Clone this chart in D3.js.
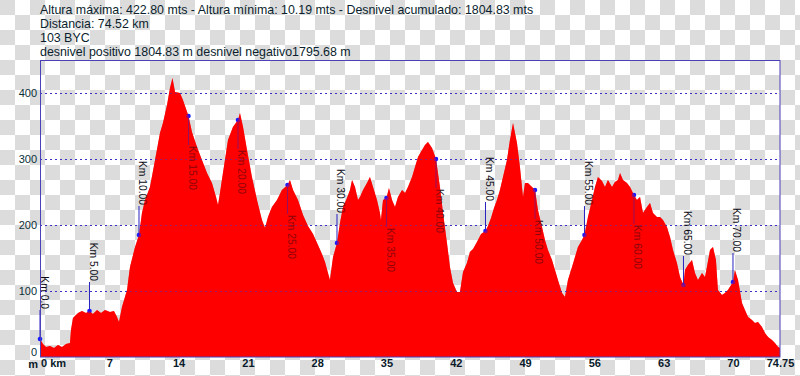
<!DOCTYPE html>
<html>
<head>
<meta charset="utf-8">
<script src="https://cdn.jsdelivr.net/npm/d3@7"></script>
<style>
html,body{margin:0;padding:0;background:#fff;}
svg{display:block;font-family:"Liberation Sans",Arial,sans-serif;}
</style>
</head>
<body>
<svg id="chart" width="800" height="376"></svg>
<script>
// ---- data ----
const titleLines = [
  "Altura máxima: 422.80 mts - Altura mínima: 10.19 mts - Desnivel acumulado: 1804.83 mts",
  "Distancia: 74.52 km",
  "103 BYC",
  "desnivel positivo 1804.83 m desnivel negativo1795.68 m"
];
const distanceKm = [0,0.30,0.61,1.01,1.41,1.82,2.22,2.63,3.03,3.13,3.33,3.84,4.24,4.65,5.00,5.35,5.76,6.16,6.57,7.07,7.47,7.78,7.98,8.28,8.79,9.09,9.60,10.00,10.30,10.61,11.11,11.62,12.12,12.42,12.83,13.13,13.38,13.64,14.14,14.44,15.00,15.35,15.86,16.36,16.87,17.37,17.78,17.98,18.18,18.48,18.99,19.49,20.00,20.20,20.51,20.91,21.41,21.92,22.42,22.73,23.03,23.43,23.94,24.44,25.00,25.25,25.56,26.06,26.57,27.07,27.58,28.08,28.48,28.79,29.09,29.29,29.60,30.00,30.30,30.61,31.01,31.31,31.52,31.82,32.12,32.32,32.63,33.03,33.33,33.64,34.04,34.34,34.44,34.65,35.00,35.25,35.56,35.86,36.16,36.57,36.87,37.17,37.58,37.88,38.18,38.59,38.89,39.19,39.60,40.00,40.40,40.71,41.11,41.41,41.72,42.12,42.42,42.73,43.13,43.43,43.74,44.14,44.55,45.00,45.25,45.56,45.86,46.16,46.46,46.77,47.17,47.47,47.78,48.18,48.48,48.79,48.99,49.29,49.70,50.00,50.30,50.71,51.01,51.31,51.72,52.02,52.32,52.73,53.03,53.33,53.74,54.04,54.34,54.75,55.00,55.35,55.76,56.06,56.36,56.77,57.07,57.37,57.78,58.08,58.38,58.59,58.89,59.29,59.60,60.00,60.30,60.61,60.91,61.31,61.62,61.92,62.32,62.63,62.93,63.33,63.64,63.94,64.34,64.65,65.00,65.15,65.45,65.86,66.16,66.46,66.87,67.17,67.37,67.68,67.98,68.28,68.48,68.89,69.19,69.49,70.00,70.20,70.51,70.91,71.21,71.52,71.92,72.22,72.53,72.93,73.23,73.54,73.94,74.24,74.55,74.75];
const elevationM = [27.3,19.7,15.2,16.7,13.6,18.2,15.2,19.7,21.2,40.9,59.1,66.7,69.7,66.7,69.7,65.2,71.2,66.7,71.2,68.2,69.7,60.6,53.0,75.8,101.5,136.4,166.7,184.8,218.2,237.9,257.6,298.5,339.4,354.5,381.8,407.6,422.8,401.5,400.0,389.4,365.2,340.9,318.2,298.5,278.8,263.6,242.4,230.3,248.5,278.8,328.8,348.5,359.1,369.7,348.5,313.6,272.7,237.9,207.6,195.5,212.1,227.3,237.9,253.0,260.6,268.2,253.0,237.9,215.2,198.5,186.4,169.7,156.1,143.9,127.3,116.7,151.5,172.7,203.0,227.3,240.9,253.0,268.2,257.6,237.9,242.4,253.0,263.6,272.7,257.6,237.9,218.2,207.6,237.9,240.9,256.1,237.9,227.3,242.4,253.0,248.5,257.6,272.7,287.9,303.0,313.6,321.2,325.8,316.7,300.0,257.6,218.2,172.7,136.4,112.1,98.5,98.5,128.8,142.4,159.1,163.6,174.2,186.4,190.9,198.5,210.6,225.8,237.9,253.0,272.7,298.5,328.8,354.5,324.2,287.9,242.4,263.6,263.6,257.6,253.0,222.7,197.0,177.3,162.1,147.0,131.8,116.7,97.0,90.9,116.7,136.4,151.5,166.7,177.3,184.8,212.1,237.9,257.6,272.7,266.7,257.6,268.2,257.6,265.2,268.2,278.8,268.2,263.6,257.6,245.5,237.9,242.4,218.2,227.3,233.3,218.2,212.1,212.1,207.6,197.0,181.8,162.1,142.4,121.2,109.1,131.8,139.4,147.0,127.3,116.7,127.3,121.2,136.4,162.1,166.7,147.0,101.5,93.9,97.0,101.5,113.6,131.8,116.7,81.8,71.2,60.6,56.1,51.5,53.0,45.5,36.4,30.3,25.8,21.2,15.2,13.6];
const markerKm = [0,5,10,15,20,25,30,35,40,45,50,55,60,65,70];
const markerLabels = ["Km 0.0","Km 5.00","Km 10.00","Km 15.00","Km 20.00","Km 25.00","Km 30.00","Km 35.00","Km 40.00","Km 45.00","Km 50.00","Km 55.00","Km 60.00","Km 65.00","Km 70.00"];
const markerSide = ["up","up","up","down","down","down","up","down","down","up","down","up","down","up","up"];
const yTicks = [0,100,200,300,400];
const yGrid = [100,200,300,400];
const xTicks = [0,7,14,21,28,35,42,49,56,63,70,74.75];

// ---- drawing ----
const svg = d3.select("#chart");
const x = d3.scaleLinear().domain([0,74.75]).range([40,780]);
const y = d3.scaleLinear().domain([0,450]).range([357,60]);

// checkerboard background (transparent image pattern)
const defs = svg.append("defs");
const pat = defs.append("pattern").attr("id","checker").attr("patternUnits","userSpaceOnUse")
  .attr("width",30).attr("height",30);
pat.append("rect").attr("width",30).attr("height",30).attr("fill","#ffffff");
pat.append("rect").attr("x",0).attr("y",0).attr("width",15).attr("height",15).attr("fill","#dcdcdc");
pat.append("rect").attr("x",15).attr("y",15).attr("width",15).attr("height",15).attr("fill","#dcdcdc");
svg.append("rect").attr("width",800).attr("height",376).attr("fill","url(#checker)");

// title
svg.append("g").selectAll("text").data(titleLines).join("text")
  .attr("x",40).attr("y",(d,i)=>14+i*14)
  .attr("font-size",12.4).attr("fill","#0b1f2e").text(d=>d);

const pts = distanceKm.map((d,i)=>({km:d, e:elevationM[i]}));
const area = d3.area().x(d=>x(d.km)).y0(y(0)).y1(d=>y(d.e));

// filled profile
svg.append("path").datum(pts).attr("d",area).attr("fill","#ff0000");

// grid lines
svg.append("g").selectAll("line").data(yGrid).join("line")
  .attr("x1",x(0)).attr("x2",x(74.75)).attr("y1",d=>y(d)+0.5).attr("y2",d=>y(d)+0.5)
  .attr("stroke","#3a32c8").attr("stroke-width",1).attr("stroke-dasharray","2,3");

// markers
const interp = km => {
  const i = d3.bisector(d=>d.km).left(pts, km);
  if (i<=0) return pts[0].e;
  if (i>=pts.length) return pts[pts.length-1].e;
  const a=pts[i-1], b=pts[i];
  return a.e + (b.e-a.e)*(km-a.km)/(b.km-a.km);
};
const mk = markerKm.map((k,i)=>({km:k, e:interp(k), label:markerLabels[i], side:markerSide[i]}));
const mg = svg.append("g");
mg.selectAll("line").data(mk).join("line")
  .attr("x1",d=>x(d.km)).attr("x2",d=>x(d.km))
  .attr("y1",d=>y(d.e)).attr("y2",d=>d.side==="up"? y(d.e)-29 : y(d.e)+29)
  .attr("stroke","#2a22c0").attr("stroke-width",1);
mg.selectAll("text").data(mk).join("text")
  .attr("transform",d=>`translate(${x(d.km)+0.5},${d.side==="up"? y(d.e)-30 : y(d.e)+30}) rotate(90)`)
  .attr("text-anchor",d=>d.side==="up"?"end":"start")
  .attr("font-size",10.3).attr("fill","#0a0a14").text(d=>d.label);

// semi-transparent red overlay darkens labels inside the profile
svg.append("path").datum(pts).attr("d",area).attr("fill","#ff0000").attr("opacity",0.5);

mg.append("g").selectAll("circle").data(mk).join("circle")
  .attr("cx",d=>x(d.km)).attr("cy",d=>y(d.e)).attr("r",2.3).attr("fill","#1a1aff");

// frame
svg.append("rect").attr("x",40.5).attr("y",60.5).attr("width",739.5).attr("height",296.5)
  .attr("fill","none").attr("stroke","#4a40b8").attr("stroke-width",1);

// axes
const yAxis = svg.append("g").attr("transform","translate(37,0)")
  .call(d3.axisLeft(y).tickValues(yTicks).tickSize(0).tickPadding(0).tickFormat(d3.format("d")));
yAxis.select(".domain").remove();
yAxis.selectAll("text").attr("font-size",11).attr("fill","#0a3038").attr("font-family","Liberation Sans, Arial, sans-serif").attr("dy","0.32em");
yAxis.selectAll("text").filter(d=>d===0).attr("dy","-0.1em");

const xAxis = svg.append("g").attr("transform","translate(0,359)")
  .call(d3.axisBottom(x).tickValues(xTicks).tickSize(0).tickPadding(0)
    .tickFormat(d=> d===0 ? "0 km" : (d===74.75 ? "74.75" : d3.format("d")(d))));
xAxis.select(".domain").remove();
xAxis.selectAll("text").attr("font-size",11).attr("font-weight","bold").attr("fill","#0a1a2a")
  .attr("font-family","Liberation Sans, Arial, sans-serif").attr("dy","0.75em");
xAxis.selectAll("text").filter(d=>d===0).attr("text-anchor","start").attr("dx","0.05em");
svg.append("text").attr("x",38).attr("y",368).attr("text-anchor","end")
  .attr("font-size",11).attr("font-weight","bold").attr("fill","#0a1a2a").text("m");
</script>
</body>
</html>
